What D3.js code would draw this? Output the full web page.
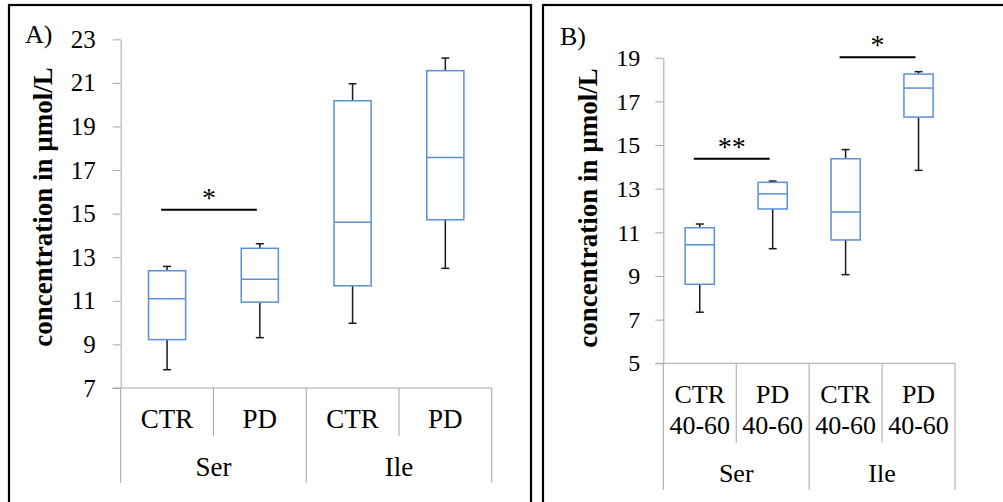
<!DOCTYPE html>
<html>
<head>
<meta charset="utf-8">
<script src="https://cdn.jsdelivr.net/npm/d3@7"></script>
<style>
  body { margin: 0; background: #fff; }
  svg text { font-family: "Liberation Serif", "Times New Roman", serif; fill: #000; }
</style>
</head>
<body>
<div id="chart"></div>
<script>
// data
var groups = ["Ser", "Ile"];
var catsA = ["CTR", "PD", "CTR", "PD"];
var catsB = ["CTR 40-60", "PD 40-60", "CTR 40-60", "PD 40-60"];

// panel A: whisker low, q1, median, q3, whisker high
var lowA = [7.84, 9.31, 9.97, 12.49];
var q1A = [9.22, 10.94, 11.69, 14.72];
var medA = [11.1, 11.99, 14.61, 17.58];
var q3A = [12.38, 13.41, 20.18, 21.56];
var highA = [12.58, 13.62, 20.96, 22.14];
var ticksA = [7, 9, 11, 13, 15, 17, 19, 21, 23];

// panel B
var lowB = [7.34, 10.25, 9.06, 13.84];
var q1B = [8.62, 12.07, 10.65, 16.28];
var medB = [10.43, 12.76, 11.93, 17.61];
var q3B = [11.21, 13.29, 14.37, 18.25];
var highB = [11.38, 13.35, 14.79, 18.36];
var ticksB = [5, 7, 9, 11, 13, 15, 17, 19];

// significance bars: [from category, to category, level, label]
var sigA = [[0, 1, 15.18, "*"]];
var sigB = [[0, 1, 14.37, "**"], [2, 3, 19.02, "*"]];

var svg = d3.select("#chart").append("svg")
    .attr("width", 1003)
    .attr("height", 502);

// panel frames
svg.append("rect").attr("x", 9).attr("y", 5).attr("width", 522).attr("height", 520)
    .attr("fill", "none").attr("stroke", "#000").attr("stroke-width", 2.2);
svg.append("rect").attr("x", 543).attr("y", 5).attr("width", 480).attr("height", 520)
    .attr("fill", "none").attr("stroke", "#000").attr("stroke-width", 2.2);

function drawPanel(p) {
    var g = svg.append("g");
    var n = p.cats.length;
    var x = d3.scaleBand().domain(d3.range(n)).range(p.xr).padding(0);
    var y = d3.scaleLinear().domain([p.ticks[0], p.ticks[p.ticks.length - 1]]).range(p.yr);
    var bw = x.bandwidth() * 0.4;
    var cap = 8;

    // y axis
    var ax = g.append("g")
        .attr("transform", "translate(" + p.xr[0] + ",0)")
        .call(d3.axisLeft(y).tickValues(p.ticks).tickSizeInner(8).tickSizeOuter(0).tickPadding(p.pad));
    ax.attr("font-family", null);
    ax.select(".domain").attr("stroke", "#a6a6a6");
    ax.selectAll(".tick line").attr("stroke", "#a6a6a6");
    ax.selectAll(".tick text")
        .attr("font-size", p.tickFont)
        .attr("fill", "#000");

    // x axis baseline + category separators
    var y0 = p.yr[0];
    g.append("line").attr("x1", p.xr[0] - 8).attr("x2", p.xr[1])
        .attr("y1", y0).attr("y2", y0).attr("stroke", "#a6a6a6");
    for (var i = 0; i <= n; i++) {
        var xx = i < n ? x(i) : p.xr[1];
        var outer = (i % 2 === 0);
        g.append("line").attr("x1", xx).attr("x2", xx)
            .attr("y1", y0).attr("y2", outer ? p.outerY : p.innerY)
            .attr("stroke", "#a6a6a6");
    }

    // category labels
    p.cats.forEach(function (c, i) {
        var t = g.append("text")
            .attr("x", x(i) + x.bandwidth() / 2)
            .attr("text-anchor", "middle")
            .attr("font-size", p.catFont);
        c.split(" ").forEach(function (part, k) {
            t.append("tspan").attr("x", x(i) + x.bandwidth() / 2)
                .attr("y", p.catY[k]).text(part);
        });
    });
    groups.forEach(function (gr, j) {
        g.append("text")
            .attr("x", (x(j * 2) + x(j * 2 + 1) + x.bandwidth()) / 2)
            .attr("y", p.groupY)
            .attr("text-anchor", "middle")
            .attr("font-size", p.catFont)
            .text(gr);
    });

    // whiskers
    for (var k = 0; k < n; k++) {
        var cx = x(k) + x.bandwidth() / 2;
        g.append("line").attr("x1", cx).attr("x2", cx)
            .attr("y1", y(p.high[k])).attr("y2", y(p.q3[k]))
            .attr("stroke", "#1a1a1a").attr("stroke-width", 1.5);
        g.append("line").attr("x1", cx).attr("x2", cx)
            .attr("y1", y(p.low[k])).attr("y2", y(p.q1[k]))
            .attr("stroke", "#1a1a1a").attr("stroke-width", 1.5);
        g.append("line").attr("x1", cx - cap / 2).attr("x2", cx + cap / 2)
            .attr("y1", y(p.high[k])).attr("y2", y(p.high[k]))
            .attr("stroke", "#1a1a1a").attr("stroke-width", 1.5);
        g.append("line").attr("x1", cx - cap / 2).attr("x2", cx + cap / 2)
            .attr("y1", y(p.low[k])).attr("y2", y(p.low[k]))
            .attr("stroke", "#1a1a1a").attr("stroke-width", 1.5);
        // box
        g.append("rect")
            .attr("x", cx - bw / 2).attr("width", bw)
            .attr("y", y(p.q3[k])).attr("height", y(p.q1[k]) - y(p.q3[k]))
            .attr("fill", "#fff").attr("stroke", "#5b8fd6").attr("stroke-width", 1.5);
        g.append("line").attr("x1", cx - bw / 2).attr("x2", cx + bw / 2)
            .attr("y1", y(p.med[k])).attr("y2", y(p.med[k]))
            .attr("stroke", "#5b8fd6").attr("stroke-width", 1.5);
    }

    // significance
    p.sig.forEach(function (s) {
        var xa = x(s[0]) + x.bandwidth() / 2 - 6;
        var xb = x(s[1]) + x.bandwidth() / 2 - 3;
        g.append("line").attr("x1", xa).attr("x2", xb)
            .attr("y1", y(s[2])).attr("y2", y(s[2]))
            .attr("stroke", "#000").attr("stroke-width", 2.2);
        g.append("text")
            .attr("x", (xa + xb) / 2)
            .attr("y", y(s[2]) - 3)
            .attr("text-anchor", "middle")
            .attr("font-size", 28)
            .text(s[3]);
    });

    // y title
    g.append("text")
        .attr("transform", "translate(" + p.titleX + "," + p.titleY + ") rotate(-90)")
        .attr("text-anchor", "middle")
        .attr("font-size", 27)
        .attr("font-weight", "bold")
        .text("concentration in µmol/L");

    // panel label
    g.append("text").attr("x", p.labX).attr("y", p.labY)
        .attr("font-size", 26).text(p.label);
}

drawPanel({
    cats: catsA, low: lowA, q1: q1A, med: medA, q3: q3A, high: highA,
    ticks: ticksA, sig: sigA,
    xr: [120.7, 491.7], yr: [388, 39.3], pad: 17,
    tickFont: 25, catFont: 27,
    innerY: 436, outerY: 483, catY: [428], groupY: 476,
    titleX: 52, titleY: 207, labX: 25, labY: 43, label: "A)"
});

drawPanel({
    cats: catsB, low: lowB, q1: q1B, med: medB, q3: q3B, high: highB,
    ticks: ticksB, sig: sigB,
    xr: [663.3, 955], yr: [363.3, 57.7], pad: 15,
    tickFont: 24, catFont: 26,
    innerY: 443, outerY: 490, catY: [403, 434], groupY: 482,
    titleX: 597, titleY: 208, labX: 560, labY: 45, label: "B)"
});
</script>
</body>
</html>
